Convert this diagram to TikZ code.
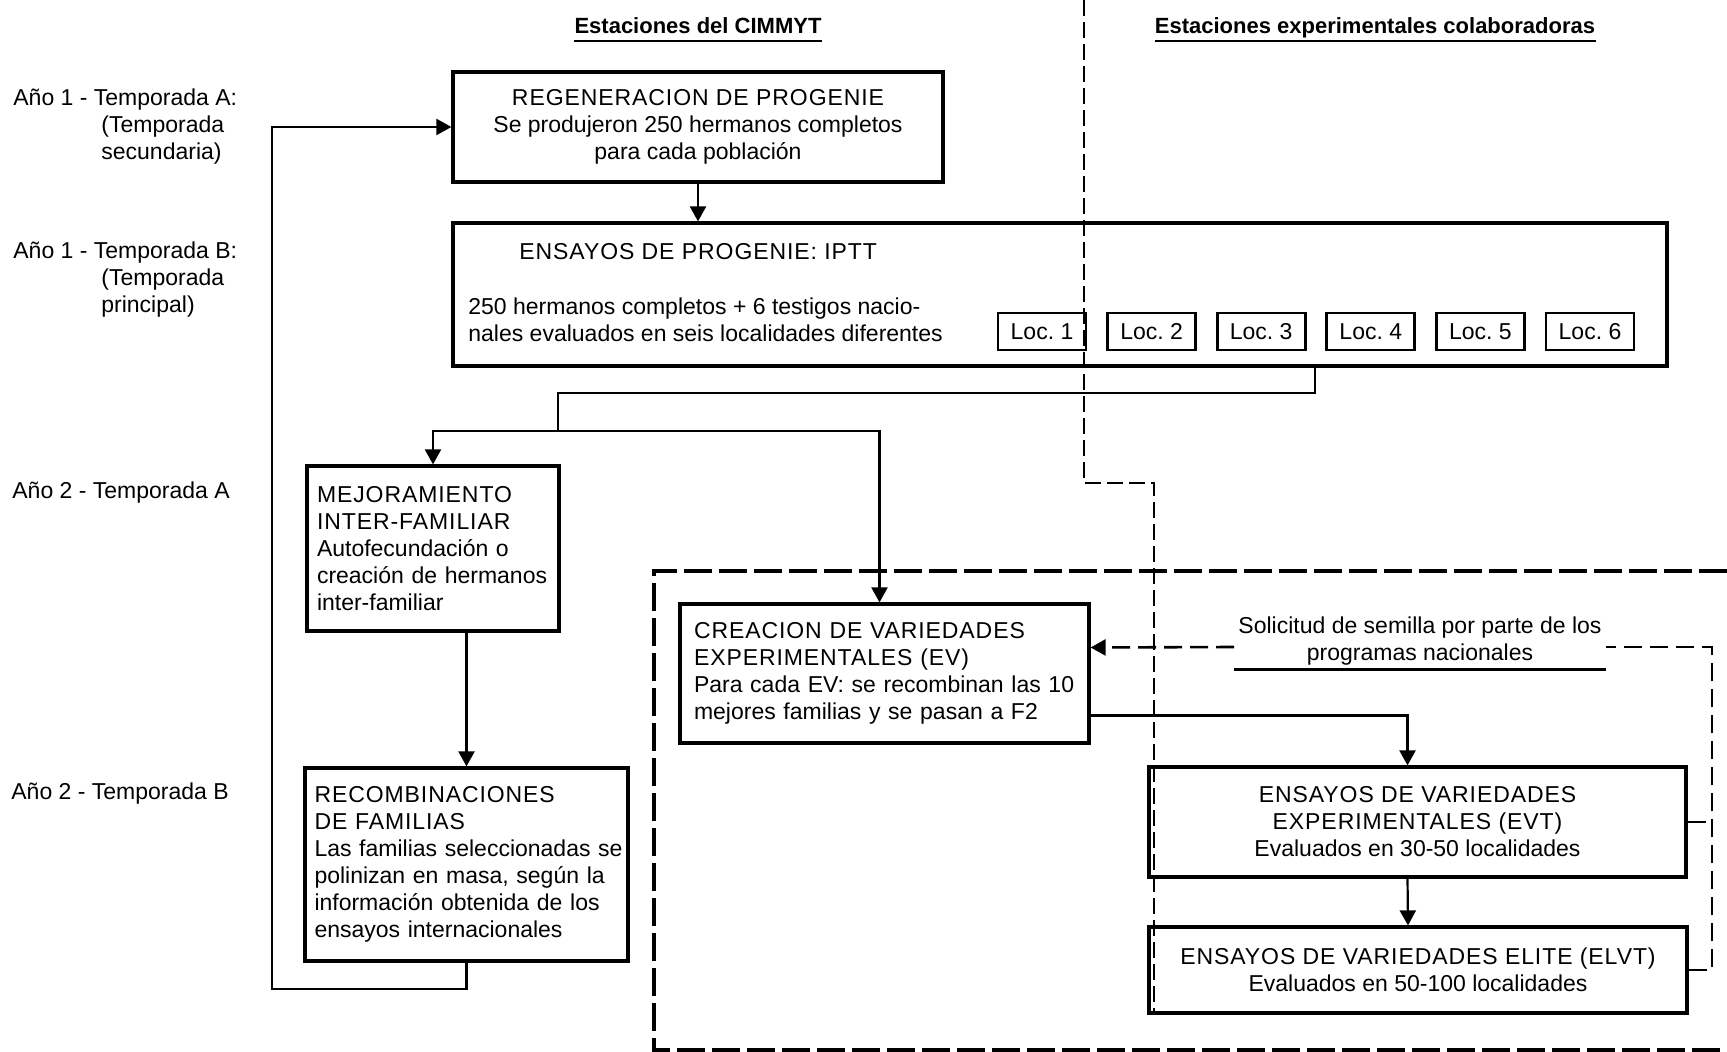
\documentclass[tikz,border=0pt]{standalone}
\usepackage{fontspec}
\setmainfont{Liberation Sans}
\newfontfamily\capsfont[LetterSpace=4]{Liberation Sans}
\usetikzlibrary{arrows.meta}

\begin{document}
\begin{tikzpicture}[x=0.5pt, y=-0.5pt, font=\fontsize{11.5}{13.5}\selectfont,
    >={Triangle[length=7.5pt, width=8pt]},
    box/.style={draw, line width=1.6pt, inner sep=0pt, align=center},
    leftbox/.style={draw, line width=1.6pt, align=left, inner xsep=7pt, inner ysep=0pt},
    locbox/.style={draw, line width=1.4pt, minimum width=44pt, minimum height=18.5pt, inner sep=0pt},
    conn/.style={line width=1.1pt},
    divline/.style={line width=1.3pt, dash pattern=on 8pt off 3pt},
    regline/.style={line width=2pt, dash pattern=on 14pt off 3.5pt},
    reqline/.style={line width=1.3pt, dash pattern=on 9pt off 4pt}]
    \useasboundingbox (0,0) rectangle (1727,1052);

    % zones
    \draw[divline] (1084,0) -- (1084,483) -- (1154,483) -- (1154,1013);
    \draw[regline] (1727,571) -- (654,571) -- (654,1050) -- (1727,1050);

    % headings
    \node[anchor=base, inner sep=0pt, font=\fontsize{11}{13.5}\selectfont\bfseries] (hdcimmyt) at (698,34) {Estaciones del CIMMYT};
    \node[anchor=base, inner sep=0pt, font=\fontsize{11}{13.5}\selectfont\bfseries] (hdcolab) at (1375,34) {Estaciones experimentales colaboradoras};
    \draw[line width=1.2pt] ([yshift=-3.5pt]hdcimmyt.base west) -- ([yshift=-3.5pt]hdcimmyt.base east);
    \draw[line width=1.2pt] ([yshift=-3.5pt]hdcolab.base west) -- ([yshift=-3.5pt]hdcolab.base east);

    % seasons
    \node[anchor=west, align=left, inner sep=0pt] (yr1a) at (13,127) {Año 1 - Temporada A:\\\hspace*{44pt}(Temporada\\\hspace*{44pt}secundaria)};
    \node[anchor=west, align=left, inner sep=0pt] (yr1b) at (13,280) {Año 1 - Temporada B:\\\hspace*{44pt}(Temporada\\\hspace*{44pt}principal)};
    \node[anchor=west, inner sep=0pt] (yr2a) at (12,493) {Año 2 - Temporada A};
    \node[anchor=west, inner sep=0pt] (yr2b) at (11,794) {Año 2 - Temporada B};

    % boxes
    \node[box, minimum width=245pt, minimum height=55pt] (regen) at (698,127)
      {{\capsfont REGENERACION DE PROGENIE}\\Se produjeron 250 hermanos completos\\para cada población};
    \node[box, minimum width=607pt, minimum height=71.5pt] (prog) at (1060,294.5) {};
    \node[anchor=west, inner sep=0pt] (progtit) at (519,252) {\capsfont ENSAYOS DE PROGENIE: IPTT};
    \node[anchor=west, align=left, inner sep=0pt] (progtxt) at (468,320)
      {250 hermanos completos + 6 testigos nacio-\\nales evaluados en seis localidades diferentes};
    \foreach \i in {1,...,6}
      \node[locbox] (loc\i) at ({1042+109.6*(\i-1)},331.5) {Loc.\ \i};

    \node[leftbox, text width=116pt, inner xsep=5pt, minimum height=82.5pt] (mejor) at (433,548.5)
      {{\capsfont MEJORAMIENTO}\\{\capsfont INTER-FAMILIAR}\\Autofecundación o\\\mbox{creación de hermanos}\\inter-familiar};
    \node[leftbox, text width=152pt, inner xsep=4.75pt, minimum height=96.5pt] (recomb) at (466.5,864.5)
      {{\capsfont RECOMBINACIONES}\\{\capsfont DE FAMILIAS}\\\mbox{Las familias seleccionadas se}\\\mbox{polinizan en masa, según la}\\\mbox{información obtenida de los}\\ensayos internacionales};
    \node[leftbox, text width=190.5pt, minimum height=69.5pt] (creacion) at (884.5,673.5)
      {{\capsfont CREACION DE VARIEDADES}\\{\capsfont EXPERIMENTALES (EV)}\\\mbox{Para cada EV: se recombinan las 10}\\mejores familias y se pasan a F2};
    \node[box, minimum width=268.5pt, minimum height=55pt] (evt) at (1417.5,822)
      {{\capsfont ENSAYOS DE VARIEDADES}\\{\capsfont EXPERIMENTALES (EVT)}\\Evaluados en 30-50 localidades};
    \node[box, minimum width=269pt, minimum height=43pt] (elvt) at (1418,970)
      {{\capsfont ENSAYOS DE VARIEDADES ELITE (ELVT)}\\Evaluados en 50-100 localidades};

    \node[align=center, inner xsep=2pt, inner ysep=2pt] (solic) at (1420,641)
      {Solicitud de semilla por parte de los\\programas nacionales};
    \draw[line width=1.2pt] (solic.south west) -- (solic.south east);

    % flow
    \coordinate (progout) at (1315,366);
    \coordinate (bend) at (558,393);
    \coordinate (split) at (558,431);
    \coordinate (fbk) at (272,989);
    \coordinate (req) at (1712,647);

    \draw[conn, ->] (regen.south) -- (regen.south |- prog.north);
    \draw[conn] (progout) |- (bend) -- (split);
    \draw[conn, ->] (split) -| (mejor.north);
    \draw[conn, ->] (split) -| ([xshift=-2.5pt]creacion.north);
    \draw[conn, ->] (mejor.south -| recomb.north) -- (recomb.north);
    \draw[conn, ->] (recomb.south) |- (fbk) |- (regen.west);
    \draw[conn, ->] ([yshift=-21pt]creacion.east) -| ([xshift=-5pt]evt.north);
    \draw[conn, ->] ([xshift=-5pt]evt.south) -- ([xshift=-5pt]elvt.north);

    \draw[reqline] (elvt.east) -| (req) -- (req -| solic.east);
    \draw[reqline] (evt.east) -- (evt.east -| req);
    \draw[reqline, ->] (req -| solic.west) -- ([yshift=13pt]creacion.east);
\end{tikzpicture}
\end{document}
